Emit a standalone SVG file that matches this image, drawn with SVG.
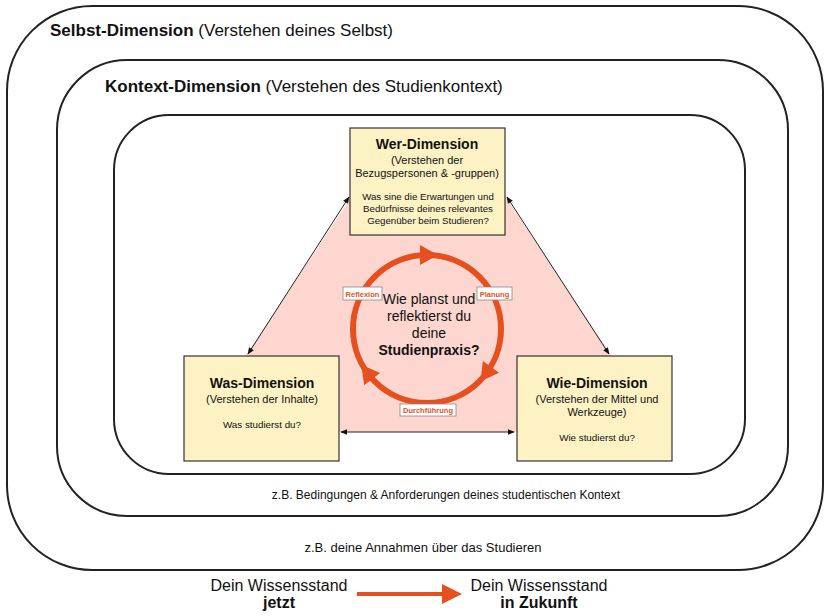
<svg xmlns="http://www.w3.org/2000/svg" width="825" height="616" viewBox="0 0 825 616">
<style>
.frame{fill:none;stroke:#222;stroke-width:2}
.box{fill:#fdf2c4;stroke:#333;stroke-width:1.2}
.t{font-family:"Liberation Sans",Arial,sans-serif;fill:#111}
.b{font-weight:bold}
.lbl{fill:#fff;stroke:#888;stroke-width:0.8}
.lt{font-family:"Liberation Sans",Arial,sans-serif;font-size:7.5px;font-weight:bold;fill:#e5501e}
.conn{stroke:#222;stroke-width:1;fill:none;marker-start:url(#ah);marker-end:url(#ah)}
</style>
<defs>
<marker id="ah" viewBox="0 0 10 10" refX="9" refY="5" markerWidth="7" markerHeight="7" orient="auto-start-reverse" markerUnits="userSpaceOnUse"><path d="M0,1 L10,5 L0,9 z" fill="#111"/></marker>
<marker id="oa" viewBox="0 0 10 10" refX="8" refY="5" markerWidth="5" markerHeight="5" orient="auto"><path d="M0,0 L10,5 L0,10 z" fill="#e5501e"/></marker>
<polygon id="cah" points="438,255 420,245 420,265" fill="#e5501e"/>
</defs>
<rect width="825" height="616" fill="#fff"/>
<g id="selbst">
<rect class="frame" x="7" y="6" width="816" height="564" rx="85" ry="85"/>
<text class="t" x="50" y="36" font-size="17"><tspan class="b">Selbst-Dimension</tspan> (Verstehen deines Selbst)</text>
<text class="t" x="423" y="552" font-size="13" text-anchor="middle">z.B. deine Annahmen über das Studieren</text>
</g>
<g id="kontext">
<rect class="frame" x="57" y="60" width="731" height="456" rx="70" ry="70"/>
<text class="t" x="105" y="92" font-size="17"><tspan class="b">Kontext-Dimension</tspan> (Verstehen des Studienkontext)</text>
<text class="t" x="446" y="499" font-size="12" text-anchor="middle">z.B. Bedingungen &amp; Anforderungen deines studentischen Kontext</text>
</g>
<g id="studienpraxis-frame">
<rect class="frame" x="114" y="115" width="631" height="359" rx="55" ry="55"/>
</g>
<g id="pink-area">
<polygon points="352,196 505,196 611,355 611,432 246,432 246,355" fill="#fdd6d0"/>
</g>
<g id="connectors">
<line class="conn" x1="248" y1="354" x2="349" y2="197"/>
<line class="conn" x1="507" y1="197" x2="609" y2="354"/>
<line class="conn" x1="341" y1="432" x2="514" y2="432"/>
</g>
<g id="wer">
<rect class="box" x="350" y="128" width="155" height="107"/>
<text class="t b" x="427" y="149" font-size="14" text-anchor="middle">Wer-Dimension</text>
<text class="t" x="427" y="164" font-size="11" text-anchor="middle">(Verstehen der</text>
<text class="t" x="427" y="177" font-size="11" text-anchor="middle">Bezugspersonen &amp; -gruppen)</text>
<text class="t" x="428" y="200" font-size="9.7" text-anchor="middle">Was sine die Erwartungen und</text>
<text class="t" x="428" y="212" font-size="9.7" text-anchor="middle">Bedürfnisse deines relevantes</text>
<text class="t" x="428" y="224" font-size="9.7" text-anchor="middle">Gegenüber beim Studieren?</text>
</g>
<g id="was">
<rect class="box" x="184" y="356" width="155" height="105"/>
<text class="t b" x="262" y="388" font-size="14" text-anchor="middle">Was-Dimension</text>
<text class="t" x="262" y="403" font-size="11" text-anchor="middle">(Verstehen der Inhalte)</text>
<text class="t" x="262" y="428" font-size="9.8" text-anchor="middle">Was studierst du?</text>
</g>
<g id="wie">
<rect class="box" x="517" y="356" width="155" height="105"/>
<text class="t b" x="597" y="388" font-size="14" text-anchor="middle">Wie-Dimension</text>
<text class="t" x="597" y="403" font-size="11" text-anchor="middle">(Verstehen der Mittel und</text>
<text class="t" x="597" y="416" font-size="11" text-anchor="middle">Werkzeuge)</text>
<text class="t" x="597" y="441" font-size="9.8" text-anchor="middle">Wie studierst du?</text>
</g>
<g id="zyklus">
<circle cx="427" cy="329" r="74" fill="none" stroke="#e5501e" stroke-width="6"/>
<use href="#cah"/>
<use href="#cah" transform="rotate(126 427 329)"/>
<use href="#cah" transform="rotate(233 427 329)"/>
<text class="t" x="429" y="304" font-size="14" text-anchor="middle">Wie planst und</text>
<text class="t" x="429" y="321" font-size="14" text-anchor="middle">reflektierst du</text>
<text class="t" x="429" y="338" font-size="14" text-anchor="middle">deine</text>
<text class="t b" x="429" y="355" font-size="14" text-anchor="middle">Studienpraxis?</text>
</g>
<g id="reflexion">
<rect class="lbl" x="343" y="287" width="39" height="13"/>
<text class="lt" x="362.5" y="296.5" text-anchor="middle">Reflexion</text>
</g>
<g id="planung">
<rect class="lbl" x="477" y="287" width="35" height="13"/>
<text class="lt" x="494.5" y="296.5" text-anchor="middle">Planung</text>
</g>
<g id="durchfuehrung">
<rect class="lbl" x="400" y="404" width="56" height="12"/>
<text class="lt" x="428" y="413" text-anchor="middle">Durchführung</text>
</g>
<g id="jetzt">
<text class="t" x="279" y="591" font-size="16" text-anchor="middle">Dein Wissensstand</text>
<text class="t b" x="279" y="608" font-size="16" text-anchor="middle">jetzt</text>
</g>
<g id="zukunft">
<text class="t" x="539" y="591" font-size="16" text-anchor="middle">Dein Wissensstand</text>
<text class="t b" x="539" y="608" font-size="16" text-anchor="middle">in Zukunft</text>
</g>
<g id="zeit-pfeil">
<line x1="357" y1="594" x2="458" y2="594" stroke="#e5501e" stroke-width="4" marker-end="url(#oa)"/>
</g>
</svg>
